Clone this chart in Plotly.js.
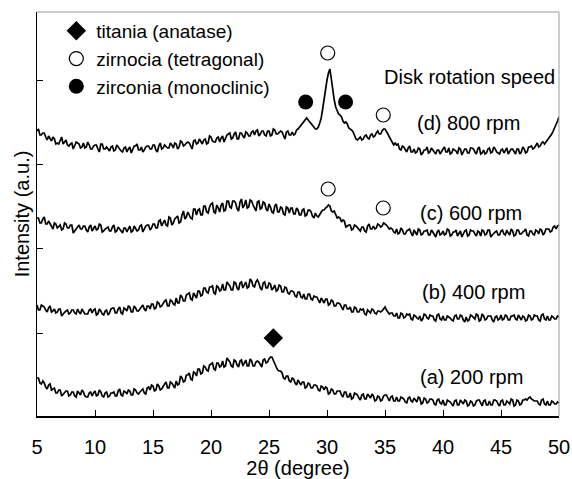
<!DOCTYPE html>
<html>
<head>
<meta charset="utf-8">
<script src="https://cdn.plot.ly/plotly-3.0.1.min.js"></script>
<style>html,body{margin:0;padding:0;background:#fff;}#chart{width:572px;height:479px;}</style>
</head>
<body>
<div id="chart"></div>
<script>
// 2-theta sampling grid (degrees)
const twoTheta = [
5,5.125,5.25,5.375,5.5,5.625,5.75,5.875, 6,6.125,6.25,6.375,6.5,6.625,6.75,6.875,
7,7.125,7.25,7.375,7.5,7.625,7.75,7.875, 8,8.125,8.25,8.375,8.5,8.625,8.75,8.875,
9,9.125,9.25,9.375,9.5,9.625,9.75,9.875, 10,10.125,10.25,10.375,10.5,10.625,10.75,10.875,
11,11.125,11.25,11.375,11.5,11.625,11.75,11.875, 12,12.125,12.25,12.375,12.5,12.625,12.75,12.875,
13,13.125,13.25,13.375,13.5,13.625,13.75,13.875, 14,14.125,14.25,14.375,14.5,14.625,14.75,14.875,
15,15.125,15.25,15.375,15.5,15.625,15.75,15.875, 16,16.125,16.25,16.375,16.5,16.625,16.75,16.875,
17,17.125,17.25,17.375,17.5,17.625,17.75,17.875, 18,18.125,18.25,18.375,18.5,18.625,18.75,18.875,
19,19.125,19.25,19.375,19.5,19.625,19.75,19.875, 20,20.125,20.25,20.375,20.5,20.625,20.75,20.875,
21,21.125,21.25,21.375,21.5,21.625,21.75,21.875, 22,22.125,22.25,22.375,22.5,22.625,22.75,22.875,
23,23.125,23.25,23.375,23.5,23.625,23.75,23.875, 24,24.125,24.25,24.375,24.5,24.625,24.75,24.875,
25,25.125,25.25,25.375,25.5,25.625,25.75,25.875, 26,26.125,26.25,26.375,26.5,26.625,26.75,26.875,
27,27.125,27.25,27.375,27.5,27.625,27.75,27.875, 28,28.125,28.25,28.375,28.5,28.625,28.75,28.875,
29,29.125,29.25,29.375,29.5,29.625,29.75,29.875, 30,30.125,30.25,30.375,30.5,30.625,30.75,30.875,
31,31.125,31.25,31.375,31.5,31.625,31.75,31.875, 32,32.125,32.25,32.375,32.5,32.625,32.75,32.875,
33,33.125,33.25,33.375,33.5,33.625,33.75,33.875, 34,34.125,34.25,34.375,34.5,34.625,34.75,34.875,
35,35.125,35.25,35.375,35.5,35.625,35.75,35.875, 36,36.125,36.25,36.375,36.5,36.625,36.75,36.875,
37,37.125,37.25,37.375,37.5,37.625,37.75,37.875, 38,38.125,38.25,38.375,38.5,38.625,38.75,38.875,
39,39.125,39.25,39.375,39.5,39.625,39.75,39.875, 40,40.125,40.25,40.375,40.5,40.625,40.75,40.875,
41,41.125,41.25,41.375,41.5,41.625,41.75,41.875, 42,42.125,42.25,42.375,42.5,42.625,42.75,42.875,
43,43.125,43.25,43.375,43.5,43.625,43.75,43.875, 44,44.125,44.25,44.375,44.5,44.625,44.75,44.875,
45,45.125,45.25,45.375,45.5,45.625,45.75,45.875, 46,46.125,46.25,46.375,46.5,46.625,46.75,46.875,
47,47.125,47.25,47.375,47.5,47.625,47.75,47.875, 48,48.125,48.25,48.375,48.5,48.625,48.75,48.875,
49,49.125,49.25,49.375,49.5,49.625,49.75,49.875, 50];

// Intensity (a.u., stacked offsets as in the figure), one row per two degrees
const rpm800 = [
285,287,281,281,283,283,279,276, 280,278,275,279,277,272,273,272,
276,279,272,274,276,271,270,272, 273,267,270,274,273,272,268,269,
273,268,269,274,271,267,267,270, 271,271,267,264,272,272,267,267,
269,267,265,269,270,265,266,271, 269,266,265,264,268,269,264,267,
269,263,266,270,270,272,266,266, 269,264,266,269,270,270,267,267,
271,271,266,264,270,273,267,268, 271,269,268,268,273,271,268,273,
272,267,269,275,274,270,271,273, 274,273,269,267,275,276,272,273,
277,274,272,276,277,272,273,280, 279,275,274,274,278,279,274,278,
280,274,277,281,282,283,277,278, 282,284,277,277,283,283,280,278,
284,283,280,280,284,285,281,285, 286,280,282,285,285,281,280,285,
285,280,281,287,286,282,282,284, 285,284,280,277,284,285,281,281,
284,281,282,286,287,289,290,293, 295,297,298,296,294,292,290,288,
287,287,289,293,298,307,318,327, 336,343,347,337,324,316,309,305,
302,301,299,295,293,294,292,288, 287,286,284,280,277,276,278,279,
276,277,280,281,278,277,281,282, 279,280,283,285,282,282,285,287,
287,285,282,279,276,273,271,273, 271,272,267,266,270,269,266,264,
268,270,264,264,267,263,264,268, 267,261,263,266,266,269,263,264,
268,266,264,262,266,266,262,265, 267,269,264,264,268,262,263,267,
266,265,262,268,267,261,264,267, 267,263,263,268,268,267,264,262,
267,269,262,263,266,262,263,267, 268,263,264,269,267,264,263,262,
266,267,263,266,268,262,264,267, 267,264,262,267,267,262,264,269,
267,263,264,269,269,270,267,268, 271,273,269,270,273,274,272,274,
276,277,279,282,285,288,291,295, 299];

const rpm600 = [
198,198,193,193,197,199,192,192, 195,192,189,187,193,192,188,190,
191,186,187,193,192,188,188,191, 191,183,185,188,190,191,187,187,
190,190,186,184,189,191,185,187, 190,186,187,192,191,184,185,187,
188,189,185,185,189,191,184,185, 189,187,186,183,188,188,184,188,
190,184,185,190,188,185,186,190, 191,184,187,190,191,191,186,188,
192,192,188,188,195,196,190,193, 196,191,190,199,198,191,193,197,
199,200,193,194,201,205,197,199, 204,201,198,197,207,207,201,206,
207,201,201,210,210,204,203,209, 212,213,204,203,211,208,204,211,
213,205,206,215,215,209,208,215, 215,213,207,205,214,217,208,211,
216,208,209,216,215,211,207,205, 214,215,207,208,214,213,207,205,
212,209,204,203,210,212,204,204, 209,208,202,201,209,208,203,208,
208,202,202,208,206,201,201,206, 207,200,201,206,206,204,200,198,
203,200,199,202,204,206,206,208, 209,211,210,205,204,205,202,198,
199,198,194,196,195,189,190,191, 191,186,187,191,190,188,186,185,
189,189,185,184,190,192,187,187, 190,187,188,192,191,189,190,193,
192,191,189,187,188,187,184,183, 187,182,183,188,186,182,182,185,
186,187,183,180,186,183,181,187, 186,181,182,185,185,186,181,181,
186,184,181,179,184,186,181,182, 185,181,182,187,186,180,181,184,
184,186,180,182,185,179,182,185, 186,180,181,186,185,185,182,180,
185,184,180,186,185,181,182,186, 186,179,181,183,184,185,181,181,
185,186,182,181,186,183,181,187, 185,180,181,186,186,182,182,184,
185,187,181,180,185,185,182,181, 186,185,182,187,186,181,183,187,
187,187,184,185,189,190,187,190, 191];

const rpm400 = [
111,106,106,111,110,109,106,104, 108,110,104,105,107,103,104,107,
107,100,102,104,105,106,102,103, 106,106,103,102,107,104,102,107,
105,102,102,102,106,107,103,106, 107,101,102,107,105,102,101,105,
106,101,103,107,108,108,103,103, 107,109,103,102,108,107,105,110,
109,104,104,110,108,105,105,107, 110,111,107,105,110,110,107,112,
112,107,108,114,113,109,110,113, 115,116,110,110,116,115,112,111,
118,113,113,121,119,115,115,121, 122,123,117,116,123,121,118,125,
125,120,121,128,128,124,123,129, 129,130,123,122,130,129,125,126,
132,126,126,134,132,130,126,126, 134,133,128,126,133,134,128,131,
134,128,129,137,135,130,129,134, 136,133,128,126,133,134,128,128,
133,132,126,128,131,125,126,131, 130,124,124,129,128,123,122,125,
125,124,120,119,124,124,119,118, 122,117,117,122,122,117,116,120,
119,119,115,113,118,116,113,117, 117,111,112,116,115,110,110,113,
113,112,108,106,111,111,107,107, 109,104,104,109,108,104,104,107,
106,107,102,101,106,104,103,107, 106,103,102,105,105,104,105,107,
109,106,104,102,103,103,100,100, 103,98,98,103,102,98,99,102,
101,102,97,96,101,100,98,97, 100,95,97,102,101,98,97,101,
100,100,96,95,101,102,97,96, 100,96,96,100,99,98,96,95,
100,101,97,97,101,100,96,94, 99,95,96,101,100,98,97,102,
101,95,96,102,100,96,97,100, 100,100,96,94,99,100,96,97,
101,96,97,101,100,96,96,100, 100,101,97,96,101,99,96,100,
99,95,96,101,100,96,97,101, 100,100,96,95,101,102,97,96,
100,96,96,100,99,97,97,100, 99];

const rpm200 = [
38,38,33,32,35,33,29,27, 31,32,26,27,28,23,23,26,
26,20,22,24,25,25,20,21, 24,24,20,19,25,23,21,26,
24,20,19,19,23,24,20,23, 25,20,21,26,24,20,19,23,
24,19,20,23,23,24,20,20, 25,27,21,20,25,24,22,26,
25,21,21,27,26,23,22,24, 26,27,23,22,28,29,26,31,
30,25,26,32,30,26,27,30, 32,34,28,28,34,33,30,28,
35,31,32,40,38,34,35,41, 41,43,37,36,44,43,40,47,
47,42,43,50,49,46,45,51, 52,53,47,46,53,53,49,50,
55,49,50,58,56,54,50,49, 56,55,51,49,55,56,50,53,
56,50,50,57,55,50,50,54, 55,54,51,49,56,57,53,54,
57,59,59,55,52,49,46,45, 45,43,38,37,40,40,35,34,
38,37,33,31,36,34,31,34, 34,28,29,33,32,28,28,31,
31,30,26,25,30,29,26,29, 28,22,23,27,26,22,22,25,
25,25,21,19,24,24,19,19, 23,17,18,23,22,21,18,16,
21,22,17,17,22,20,18,22, 20,15,16,20,19,15,16,20,
21,21,17,15,19,20,15,15, 19,15,15,19,18,17,14,13,
18,19,15,14,18,16,14,19, 18,12,13,18,17,13,14,17,
17,16,12,11,16,17,13,12, 16,11,11,16,15,14,12,10,
15,16,11,11,16,14,12,16, 15,10,11,15,14,10,11,15,
16,16,12,10,15,16,11,11, 15,11,11,16,16,15,12,10,
15,16,11,11,15,13,12,17, 16,10,11,16,15,11,12,16,
16,17,16,18,19,17,16,15, 15,15,12,11,16,17,12,11,
15,11,11,15,14,12,12,14, 13];

// Phase markers (peak identification)
const anataseX = [25.37];
const anataseY = [78];
const tetragonalX = [30.06, 34.85, 30.1, 34.85];
const tetragonalY = [363, 301, 227, 208];
const monoclinicX = [28.16, 31.6];
const monoclinicY = [314, 314];

// Curve labels
const labelText = ['Disk rotation speed', '(d) 800 rpm', '(c) 600 rpm', '(b) 400 rpm', '(a) 200 rpm'];
const labelX = [34.7, 37.6, 37.85, 38.0, 37.85];
const labelY = [339, 293, 203, 124, 39];

const xTicks = [5,10,15,20,25,30,35,40,45,50];
const yTicks = [83,168,252,336];

const FONT = 'Liberation Sans, Arial, Helvetica, sans-serif';
const lineStyle = {color:'#000', width:1.7};

const series = [rpm800, rpm600, rpm400, rpm200];
const traces = series.map(s => ({
  x: twoTheta, y: s, type:'scatter', mode:'lines',
  line: lineStyle, showlegend:false, hoverinfo:'skip'
}));

traces.push({x:anataseX, y:anataseY, type:'scatter', mode:'markers', name:'titania (anatase)',
  marker:{symbol:'diamond', size:15, color:'#000'}});
traces.push({x:tetragonalX, y:tetragonalY, type:'scatter', mode:'markers', name:'zirnocia (tetragonal)',
  marker:{symbol:'circle-open', size:14, color:'#000', line:{width:1.2, color:'#000'}}});
traces.push({x:monoclinicX, y:monoclinicY, type:'scatter', mode:'markers', name:'zirconia (monoclinic)',
  marker:{symbol:'circle', size:15, color:'#000'}});

const annotations = labelText.map((t,i) => ({
  x: labelX[i], y: labelY[i], xref:'x', yref:'y', text:t, showarrow:false,
  xanchor:'left', yanchor:'middle', font:{family:FONT, size:20, color:'#000'}
}));

const layout = {
  width:572, height:479,
  margin:{l:37, r:13, t:12, b:63},
  paper_bgcolor:'#fff', plot_bgcolor:'#fff',
  font:{family:FONT, size:20, color:'#000'},
  showlegend:true,
  legend:{x:0.037, y:1.0, xanchor:'left', yanchor:'top', bgcolor:'rgba(0,0,0,0)',
    borderwidth:0, font:{family:FONT, size:19, color:'#000'}, tracegroupgap:0, itemwidth:30},
  xaxis:{range:[5,50], tickvals:xTicks, ticks:'inside', ticklen:6, tickwidth:1, tickcolor:'#000',
    showline:true, linecolor:'#000', linewidth:1.5, showgrid:false, zeroline:false,
    ticklabelstandoff:12,
    tickfont:{family:FONT, size:20, color:'#000'},
    title:{text:'2θ (degree)', font:{family:FONT, size:20, color:'#000'}, standoff:18}},
  yaxis:{range:[0,404], tickvals:yTicks, ticks:'inside', ticklen:6, tickwidth:1, tickcolor:'#000',
    showticklabels:false, showline:true, linecolor:'#000', linewidth:1.5, showgrid:false, zeroline:false,
    title:{text:'Intensity (a.u.)', font:{family:FONT, size:20, color:'#000'}, standoff:0}},
  shapes:[
    {type:'line', xref:'paper', yref:'paper', x0:0, x1:1, y0:1, y1:1, line:{color:'#9a9a9a', width:1}},
    {type:'line', xref:'paper', yref:'paper', x0:1, x1:1, y0:0, y1:1, line:{color:'#9a9a9a', width:1}}
  ],
  annotations: annotations
};

Plotly.newPlot('chart', traces, layout, {displayModeBar:false, staticPlot:true});
</script>
</body>
</html>
